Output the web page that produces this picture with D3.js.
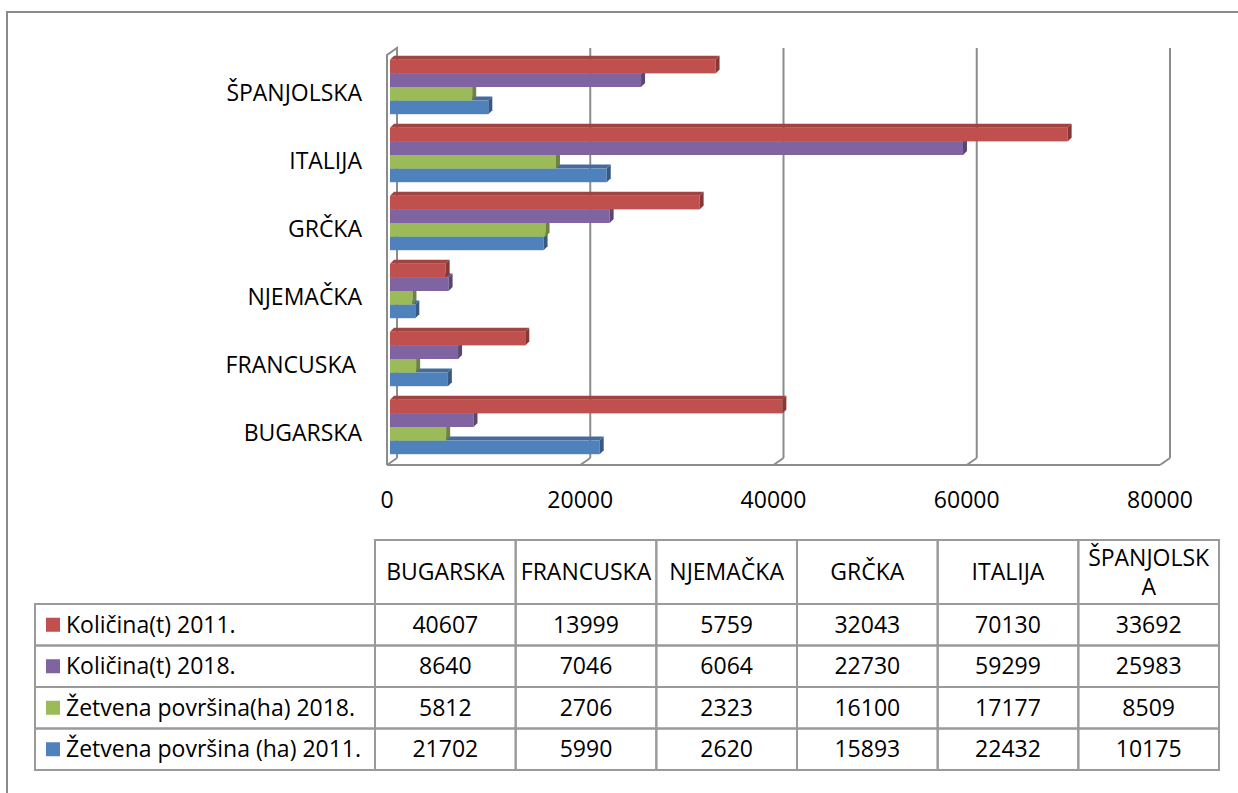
<!DOCTYPE html>
<html>
<head>
<meta charset="utf-8">
<script src="https://cdn.jsdelivr.net/npm/d3@7"></script>
<style>
  body { margin: 0; background: #fff; }
  text { font-family: "Open Sans", Lato, sans-serif; font-size: 23px; fill: #000; }
</style>
</head>
<body>
<script>
var categories = ["BUGARSKA", "FRANCUSKA\u00a0", "NJEMAČKA", "GRČKA", "ITALIJA", "ŠPANJOLSKA"];

// series, top row of the table first
var seriesNames = ["Količina(t) 2011.", "Količina(t) 2018.", "Žetvena površina(ha) 2018.", "Žetvena površina (ha) 2011."];
var kolicina2011 = [40607, 13999, 5759, 32043, 70130, 33692];
var kolicina2018 = [8640, 7046, 6064, 22730, 59299, 25983];
var zetvena2018 = [5812, 2706, 2323, 16100, 17177, 8509];
var zetvena2011 = [21702, 5990, 2620, 15893, 22432, 10175];
var seriesColors = ["#C0504D", "#8064A2", "#9BBB59", "#4F81BD"];

var tickValues = [0, 20000, 40000, 60000, 80000];

var values = [kolicina2011, kolicina2018, zetvena2018, zetvena2011];

var width = 1238,
    height = 793;

var svg = d3.select("body").append("svg")
    .attr("width", width)
    .attr("height", height);

// outer frame (right and bottom edges fall outside the picture)
svg.append("rect")
    .attr("x", 7).attr("y", 12)
    .attr("width", 1400).attr("height", 900)
    .attr("fill", "none")
    .attr("stroke", "#8a8a8a")
    .attr("stroke-width", 2);

// 3D plot geometry
var depth = {dx: 10, dy: -7},
    floorY = 465,
    wallTop = 55;

var xFront = d3.scaleLinear().domain([0, 80000]).range([387, 1160]);
var xBack = d3.scaleLinear().domain([0, 80000]).range([397, 1170]);
var xBar = d3.scaleLinear().domain([0, 80000]).range([390, 1163]);

var y = d3.scaleBand()
    .domain(categories.slice().reverse())
    .range([53, 461])
    .paddingInner(0.2)
    .paddingOuter(0.1);

var ySeries = d3.scaleBand()
    .domain(seriesNames)
    .range([0, y.bandwidth()]);

var gridColor = "#8c8c8c";
var walls = svg.append("g")
    .attr("fill", "none")
    .attr("stroke", gridColor)
    .attr("stroke-width", 2);

// back wall gridlines
walls.selectAll(".grid")
    .data(tickValues.slice(1))
  .enter().append("line")
    .attr("class", "grid")
    .attr("x1", function(d) { return xBack(d); })
    .attr("x2", function(d) { return xBack(d); })
    .attr("y1", wallTop + depth.dy)
    .attr("y2", floorY + depth.dy);

// left side wall
walls.append("path")
    .attr("d", "M" + xFront(0) + "," + floorY +
               "V" + wallTop +
               "L" + xBack(0) + "," + (wallTop + depth.dy) +
               "V" + (floorY + depth.dy));

// floor front edge and tick diagonals
walls.append("line")
    .attr("x1", xFront(0)).attr("x2", xFront(80000))
    .attr("y1", floorY).attr("y2", floorY);

walls.selectAll(".floortick")
    .data(tickValues)
  .enter().append("line")
    .attr("class", "floortick")
    .attr("x1", function(d) { return xFront(d); })
    .attr("x2", function(d) { return xBack(d); })
    .attr("y1", floorY)
    .attr("y2", floorY + depth.dy);

// bars
var bd = {dx: 4, dy: -4};
var groups = svg.selectAll(".group")
    .data(categories)
  .enter().append("g")
    .attr("class", "group")
    .attr("transform", function(c) { return "translate(0," + y(c) + ")"; });

groups.each(function(c, ci) {
  var g = d3.select(this);
  // draw bottom bar first so the ones above cover its top face
  var order = d3.range(seriesNames.length).reverse();
  order.forEach(function(si) {
    var v = values[si][ci],
        x0 = xBar(0),
        x1 = xBar(v),
        yy = ySeries(seriesNames[si]),
        h = ySeries.bandwidth(),
        col = d3.color(seriesColors[si]);

    g.append("rect")
        .attr("x", x0).attr("y", yy)
        .attr("width", x1 - x0).attr("height", h)
        .attr("fill", col);

    g.append("path")
        .attr("d", "M" + x0 + "," + yy + "L" + x1 + "," + yy +
                   "l" + bd.dx + "," + bd.dy + "L" + (x0 + bd.dx) + "," + (yy + bd.dy) + "Z")
        .attr("fill", col.darker(0.5));

    g.append("path")
        .attr("d", "M" + x1 + "," + yy + "l" + bd.dx + "," + bd.dy +
                   "v" + h + "l" + (-bd.dx) + "," + (-bd.dy) + "Z")
        .attr("fill", col.darker(1));
  });
});

// category labels
svg.selectAll(".catlabel")
    .data(categories)
  .enter().append("text")
    .attr("class", "catlabel")
    .attr("x", 362)
    .attr("y", function(c) { return y(c) + y.bandwidth() / 2 + 14; })
    .attr("text-anchor", "end")
    .style("white-space", "pre")
    .text(function(c) { return c; });

// value axis labels
svg.selectAll(".ticklabel")
    .data(tickValues)
  .enter().append("text")
    .attr("class", "ticklabel")
    .attr("x", function(d) { return xFront(d); })
    .attr("y", 508)
    .attr("text-anchor", "middle")
    .text(function(d) { return d; });

// data table
var col = d3.scaleBand().domain(categories).range([375, 1219]);
var row = d3.scaleBand().domain(seriesNames).range([604, 770]);
var headTop = 540,
    legendLeft = 35;

var table = svg.append("g");
var cellStroke = "#9a9a9a";

table.selectAll(".headcell")
    .data(categories)
  .enter().append("rect")
    .attr("x", function(c) { return col(c); })
    .attr("y", headTop)
    .attr("width", col.bandwidth())
    .attr("height", row.range()[0] - headTop)
    .attr("fill", "none").attr("stroke", cellStroke).attr("stroke-width", 2);

var rows = table.selectAll(".row")
    .data(seriesNames)
  .enter().append("g")
    .attr("class", "row")
    .attr("transform", function(s) { return "translate(0," + row(s) + ")"; });

rows.append("rect")
    .attr("x", legendLeft).attr("y", 0)
    .attr("width", col.range()[0] - legendLeft)
    .attr("height", row.bandwidth())
    .attr("fill", "none").attr("stroke", cellStroke).attr("stroke-width", 2);

rows.selectAll(".cell")
    .data(function(s, si) { return values[si].map(function(v, ci) { return {v: v, c: categories[ci]}; }); })
  .enter().append("rect")
    .attr("x", function(d) { return col(d.c); })
    .attr("y", 0)
    .attr("width", col.bandwidth())
    .attr("height", row.bandwidth())
    .attr("fill", "none").attr("stroke", cellStroke).attr("stroke-width", 2);

rows.selectAll(".val")
    .data(function(s, si) { return values[si].map(function(v, ci) { return {v: v, c: categories[ci]}; }); })
  .enter().append("text")
    .attr("x", function(d) { return col(d.c) + col.bandwidth() / 2; })
    .attr("y", row.bandwidth() / 2 + 8)
    .attr("text-anchor", "middle")
    .text(function(d) { return d.v; });

rows.append("rect")
    .attr("x", 46)
    .attr("y", row.bandwidth() / 2 - 7)
    .attr("width", 14).attr("height", 14)
    .attr("fill", function(s, si) { return seriesColors[si]; });

rows.append("text")
    .attr("x", 66)
    .attr("y", row.bandwidth() / 2 + 8)
    .text(function(s) { return s; });

// header labels, wrapped by character when too wide for the cell
table.selectAll(".headlabel")
    .data(categories)
  .enter().append("text")
    .attr("class", "headlabel")
    .attr("text-anchor", "middle")
    .each(function(c) {
      var t = d3.select(this),
          name = c.trim(),
          cx = col(c) + col.bandwidth() / 2,
          maxW = col.bandwidth() - 8,
          lines = [],
          cur = "";
      var probe = t.append("tspan");
      name.split("").forEach(function(ch) {
        probe.text(cur + ch);
        if (cur && probe.node().getComputedTextLength() > maxW) {
          lines.push(cur);
          cur = ch;
        } else {
          cur += ch;
        }
      });
      lines.push(cur);
      probe.remove();
      var lh = 29,
          mid = (headTop + row.range()[0]) / 2,
          first = mid + 8 - (lines.length - 1) * lh / 2;
      lines.forEach(function(l, i) {
        t.append("tspan").attr("x", cx).attr("y", first + i * lh).text(l);
      });
    });
</script>
</body>
</html>
